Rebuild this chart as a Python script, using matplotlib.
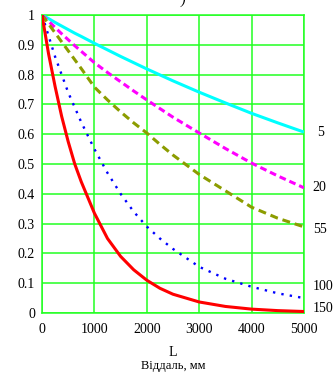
import matplotlib
matplotlib.use("Agg")
import matplotlib.pyplot as plt

# distance L, mm
L = [0, 125, 250, 375, 500, 625, 750, 1000, 1250, 1500, 1750, 2000, 2250, 2500,
     3000, 3500, 4000, 4500, 5000]

# curve values, one list per curve label
y_5 = [1.0, 0.988, 0.975, 0.963, 0.951, 0.939, 0.928, 0.905, 0.883, 0.861, 0.840,
       0.819, 0.799, 0.779, 0.741, 0.705, 0.670, 0.638, 0.607]
y_20 = [1.0, 0.979, 0.958, 0.937, 0.917, 0.897, 0.878, 0.840, 0.807, 0.776, 0.745,
        0.715, 0.686, 0.657, 0.604, 0.552, 0.503, 0.460, 0.420]
y_55 = [1.0, 0.970, 0.940, 0.910, 0.880, 0.850, 0.820, 0.758, 0.715, 0.675, 0.638,
        0.604, 0.566, 0.530, 0.465, 0.410, 0.355, 0.318, 0.289]
y_100 = [1.0, 0.930, 0.860, 0.800, 0.740, 0.690, 0.640, 0.550, 0.470, 0.400, 0.340,
         0.290, 0.250, 0.215, 0.155, 0.115, 0.088, 0.066, 0.050]
y_150 = [1.0, 0.870, 0.760, 0.660, 0.575, 0.500, 0.440, 0.335, 0.250, 0.190, 0.145,
         0.110, 0.083, 0.063, 0.037, 0.022, 0.013, 0.008, 0.005]

labels = ["5", "20", "55", "100", "150"]
label_pos = [0.607, 0.42, 0.28, 0.09, 0.016]

plt.rcParams['font.family'] = ['Liberation Serif', 'DejaVu Serif']

fig = plt.figure(figsize=(3.36, 3.76), dpi=100)
ax = fig.add_axes([42 / 336, 1 - 313 / 376, 262 / 336, 298 / 376])

grid_col = '#22ff22'

ax.plot(L, y_5, color='#00ffff', lw=2.2, solid_capstyle='butt', zorder=3)
ax.plot(L, y_20, color='#ff00ff', lw=2.2, dashes=(2.2, 1.3), dash_capstyle='butt', zorder=3)
ax.plot(L, y_55, color='#8c9c00', lw=2.2, dashes=(2.6, 1.6), dash_capstyle='butt', zorder=3)
ax.plot(L, y_100, color='#0000ff', lw=1.7, dashes=(1.0, 2.6), dash_capstyle='butt', zorder=3)
ax.plot(L, y_150, color='#ff0000', lw=2.2, solid_capstyle='butt', zorder=3)

ax.set_xlim(0, 5000)
ax.set_ylim(0, 1)
ax.set_xticks([0, 1000, 2000, 3000, 4000, 5000])
ax.set_yticks([0, 0.1, 0.2, 0.3, 0.4, 0.5, 0.6, 0.7, 0.8, 0.9, 1])
ax.set_yticklabels(['0', '0.1', '0.2', '0.3', '0.4', '0.5', '0.6', '0.7', '0.8', '0.9', '1'])
ax.tick_params(axis='both', length=0, labelsize=10)
ax.tick_params(axis='y', pad=5)
ax.tick_params(axis='x', pad=7)
ax.grid(True, color=grid_col, lw=1.1)
for s in ax.spines.values():
    s.set_color(grid_col)
    s.set_linewidth(1.1)

# curve labels on the right side
for lab, yy in zip(labels, label_pos):
    xx = 1.05 if lab == "5" else 1.033
    ax.text(xx, yy, lab, transform=ax.get_yaxis_transform(), fontsize=10,
            va='center', ha='left', clip_on=False)

fig.text(173 / 336, 1 - 353 / 376, 'L', ha='center', va='center', fontsize=10)
fig.text(173 / 336, 1 - 366 / 376, 'Віддаль, мм', ha='center', va='center', fontsize=9)
fig.text(183 / 336, 1.0, ')', ha='center', va='center', fontsize=10, style='italic')

fig.savefig('out.png', dpi=100)
